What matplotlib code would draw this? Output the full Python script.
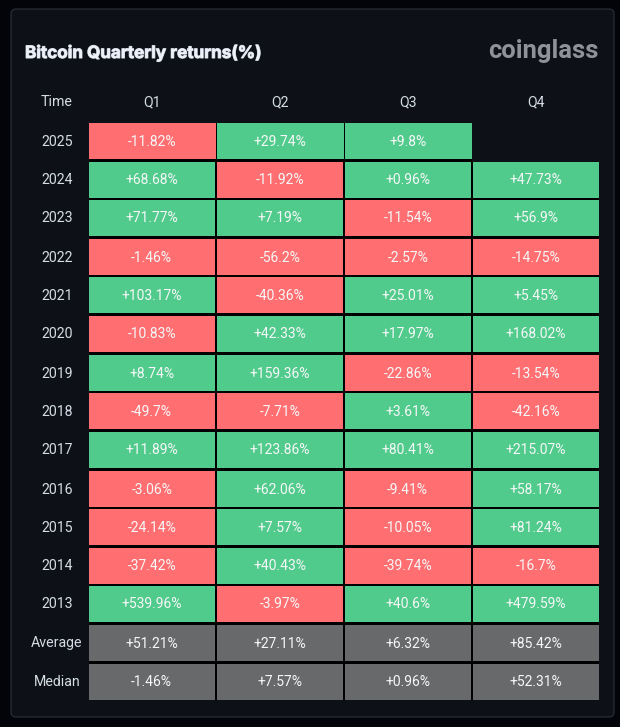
#!/usr/bin/env python3
"""Bitcoin quarterly returns table, drawn in pixel coords of a 620x727 image."""
import matplotlib
matplotlib.use("Agg")
import matplotlib.pyplot as plt
import matplotlib.patheffects as pe
from matplotlib.patches import Rectangle, FancyBboxPatch

QUARTERS = ["Q1", "Q2", "Q3", "Q4"]
YEARS = ["2025", "2024", "2023", "2022", "2021", "2020", "2019", "2018", "2017",
         "2016", "2015", "2014", "2013"]
Q1 = [-11.82, 68.68, 71.77, -1.46, 103.17, -10.83, 8.74, -49.7, 11.89, -3.06, -24.14, -37.42, 539.96]
Q2 = [29.74, -11.92, 7.19, -56.2, -40.36, 42.33, 159.36, -7.71, 123.86, 62.06, 7.57, 40.43, -3.97]
Q3 = [9.8, 0.96, -11.54, -2.57, 25.01, 17.97, -22.86, 3.61, 80.41, -9.41, -10.05, -39.74, 40.6]
Q4 = [None, 47.73, 56.9, -14.75, 5.45, 168.02, -13.54, -42.16, 215.07, 58.17, 81.24, -16.7, 479.59]
SUMMARY_NAMES = ["Average", "Median"]
AVERAGE = [51.21, 27.11, 6.32, 85.42]
MEDIAN = [-1.46, 7.57, 0.96, 52.31]

GREEN, RED, GREY = "#51cb8c", "#ff6f71", "#68696b"
PANEL = "#0d1016"
X0, COL_W, Y0, ROW_H = 89.0, 128.0, 123.0, 38.62

plt.rcParams["font.family"] = ["Roboto", "DejaVu Sans"]
fig = plt.figure(figsize=(6.2, 7.27), dpi=100, facecolor="#020409")
ax = fig.add_axes([0, 0, 1, 1])
ax.set_xlim(0, 620); ax.set_ylim(727, 0); ax.axis("off")

ax.add_patch(FancyBboxPatch((11, 9), 603, 708, boxstyle="round,pad=0,rounding_size=5",
                            fc=PANEL, ec="#2a2d33", lw=0.9))

ax.text(25, 53, "Bitcoin Quarterly returns(%)", family=["Inter", "DejaVu Sans"], fontsize=12.3,
        weight="bold", color="#eef1f6", va="center", ha="left",
        path_effects=[pe.withStroke(linewidth=0.8, foreground="#c5cfe0")])
ax.text(599, 51, "coinglass", fontsize=18.4, weight="bold", color="#8f929b", va="center", ha="right")

TXT = "#d4dce6"
ax.text(57, 102, "Time", fontsize=10.2, color=TXT, ha="center", va="center")
for i, q in enumerate(QUARTERS):
    ax.text(X0 + COL_W * (i + 0.5) - 0.5, 102, q, fontsize=10.2, color=TXT, ha="center", va="center")

rows = list(zip(YEARS, Q1, Q2, Q3, Q4)) + [(n, *v) for n, v in zip(SUMMARY_NAMES, (AVERAGE, MEDIAN))]
n_years = len(YEARS)

# gaps between the cells are black, the empty cell shows the panel again
grid_h = round(ROW_H * (len(rows) - 1)) + 36
ax.add_patch(Rectangle((X0, Y0), COL_W * len(QUARTERS) - 2, grid_h, fc="#000000", ec="none"))

for r, (name, *vals) in enumerate(rows):
    y = round(Y0 + ROW_H * r)
    ax.text(57, y + 18.5, name, fontsize=10.2, color=TXT, ha="center", va="center")
    for c, v in enumerate(vals):
        x = X0 + COL_W * c
        # the first row is a pixel wider, the browser rounded it that way
        w = COL_W - (1 if r == 0 else 2)
        if v is None:
            ax.add_patch(Rectangle((x - 1, y), COL_W, ROW_H, fc=PANEL, ec="none"))
            continue
        color = GREY if r >= n_years else (GREEN if v > 0 else RED)
        ax.add_patch(Rectangle((x, y), w, 36, fc=color, ec="none"))
        ax.text(x + 62.7, y + 18.5, f"{v:+g}%", fontsize=10, color="#f6f7f8", ha="center", va="center")

fig.savefig("out.png", dpi=100, facecolor=fig.get_facecolor())
